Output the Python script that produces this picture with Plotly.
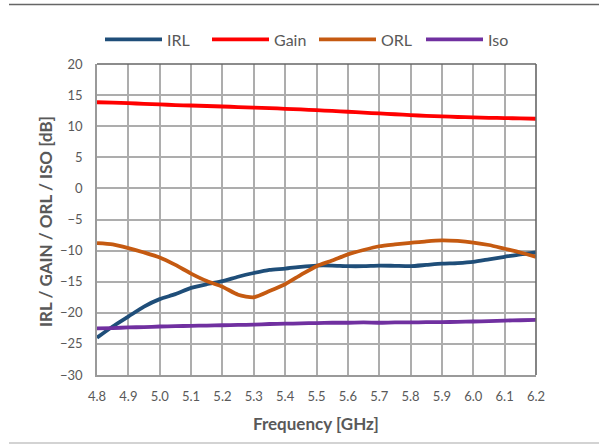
import plotly.graph_objects as go

freq = [4.80, 4.85, 4.90, 4.95, 5.00, 5.05, 5.10, 5.15, 5.20, 5.25, 5.30, 5.35, 5.40, 5.45,
        5.50, 5.55, 5.60, 5.65, 5.70, 5.75, 5.80, 5.85, 5.90, 5.95, 6.00, 6.05, 6.10, 6.15, 6.20]

irl = [-24.0, -22.2, -20.6, -19.0, -17.8, -17.0, -16.0, -15.4, -14.9, -14.2, -13.6, -13.1, -12.9, -12.6,
       -12.4, -12.4, -12.5, -12.5, -12.4, -12.45, -12.5, -12.3, -12.1, -12.0, -11.8, -11.4, -11.0, -10.6, -10.3]

gain = [13.85, 13.78, 13.7, 13.6, 13.5, 13.4, 13.33, 13.25, 13.17, 13.08, 13.0, 12.9, 12.8, 12.7,
        12.58, 12.45, 12.32, 12.18, 12.05, 11.92, 11.78, 11.67, 11.57, 11.48, 11.41, 11.35, 11.3, 11.25, 11.2]

orl = [-8.8, -9.0, -9.6, -10.3, -11.1, -12.3, -13.7, -14.9, -15.8, -17.1, -17.5, -16.5, -15.4, -13.9,
       -12.5, -11.6, -10.6, -9.9, -9.3, -9.0, -8.75, -8.5, -8.35, -8.45, -8.7, -9.1, -9.7, -10.3, -11.0]

iso = [-22.5, -22.45, -22.35, -22.3, -22.2, -22.15, -22.1, -22.05, -22.0, -21.95, -21.9, -21.8, -21.75, -21.7,
       -21.65, -21.6, -21.6, -21.55, -21.6, -21.55, -21.55, -21.5, -21.5, -21.45, -21.4, -21.35, -21.25, -21.2, -21.15]

x_ticks = [4.8, 4.9, 5.0, 5.1, 5.2, 5.3, 5.4, 5.5, 5.6, 5.7, 5.8, 5.9, 6.0, 6.1, 6.2]
y_ticks = [20, 15, 10, 5, 0, -5, -10, -15, -20, -25, -30]

series = [("IRL", irl, "#1F4E79"), ("Gain", gain, "#FF0000"), ("ORL", orl, "#C55A11"), ("Iso", iso, "#7030A0")]

W, H = 599, 445
L, R, T, B = 97, 63, 64, 70
pw, ph = W - L - R, H - T - B

def px(x):
    return (x - L) / pw

def py(y):
    return (H - B - y) / ph

FONT = "Lato, 'Noto Sans', sans-serif"
TXT = "#595959"

fig = go.Figure()
for name, vals, col in series:
    fig.add_trace(go.Scatter(x=freq, y=vals, name=name, mode="lines",
                             line=dict(color=col, width=3.8, shape="spline", smoothing=0.6)))

fig.update_layout(
    width=W, height=H,
    margin=dict(l=L, r=R, t=T, b=B),
    paper_bgcolor="white", plot_bgcolor="white",
    font=dict(family=FONT, color=TXT, size=13),
    showlegend=True,
    legend=dict(orientation="h", x=px(100), xanchor="left", y=py(39.5), yanchor="middle",
                font=dict(size=16, color=TXT, family=FONT), itemwidth=57,
                entrywidth=35, entrywidthmode="pixels",
                bgcolor="rgba(0,0,0,0)", tracegroupgap=0),
    xaxis=dict(range=[4.8, 6.2], tickvals=x_ticks, ticktext=[f"{v:.1f}" for v in x_ticks],
               showgrid=True, gridcolor="#adadad", gridwidth=1.6,
               showline=True, linecolor="#9a9a9a", linewidth=1.6,
               ticks="", ticklabelstandoff=9, zeroline=False,
               tickfont=dict(size=13, color=TXT, family=FONT)),
    yaxis=dict(range=[-30, 20], tickvals=y_ticks,
               showgrid=True, gridcolor="#adadad", gridwidth=1.6,
               showline=True, linecolor="#9a9a9a", linewidth=1.6,
               ticks="", ticklabelstandoff=10, zeroline=False,
               tickfont=dict(size=13, color=TXT, family=FONT)),
)

# plot frame top/right (darker)
fig.add_shape(type="line", xref="paper", yref="paper", x0=0, x1=1, y0=1, y1=1,
              line=dict(color="#666666", width=1.6), layer="above")
fig.add_shape(type="line", xref="paper", yref="paper", x0=1, x1=1, y0=0, y1=1,
              line=dict(color="#666666", width=1.6), layer="above")
# chart separators
fig.add_shape(type="line", xref="paper", yref="paper", x0=px(9), x1=px(599), y0=py(4.5), y1=py(4.5),
              line=dict(color="#666666", width=1.5))
fig.add_shape(type="line", xref="paper", yref="paper", x0=px(9), x1=px(599), y0=py(443), y1=py(443),
              line=dict(color="#c4c4c4", width=1.5))

# axis titles
fig.add_annotation(text="<b>Frequency [GHz]</b>", xref="paper", yref="paper",
                   x=px(316), y=py(423), xanchor="center", yanchor="middle", showarrow=False,
                   font=dict(size=17, color=TXT, family=FONT))
fig.add_annotation(text="<b>IRL / GAIN / ORL / ISO [dB]</b>", xref="paper", yref="paper",
                   x=px(45), y=py(222), xanchor="center", yanchor="middle", showarrow=False,
                   textangle=-90, font=dict(size=17, color=TXT, family=FONT))

fig.write_html("out.html")
